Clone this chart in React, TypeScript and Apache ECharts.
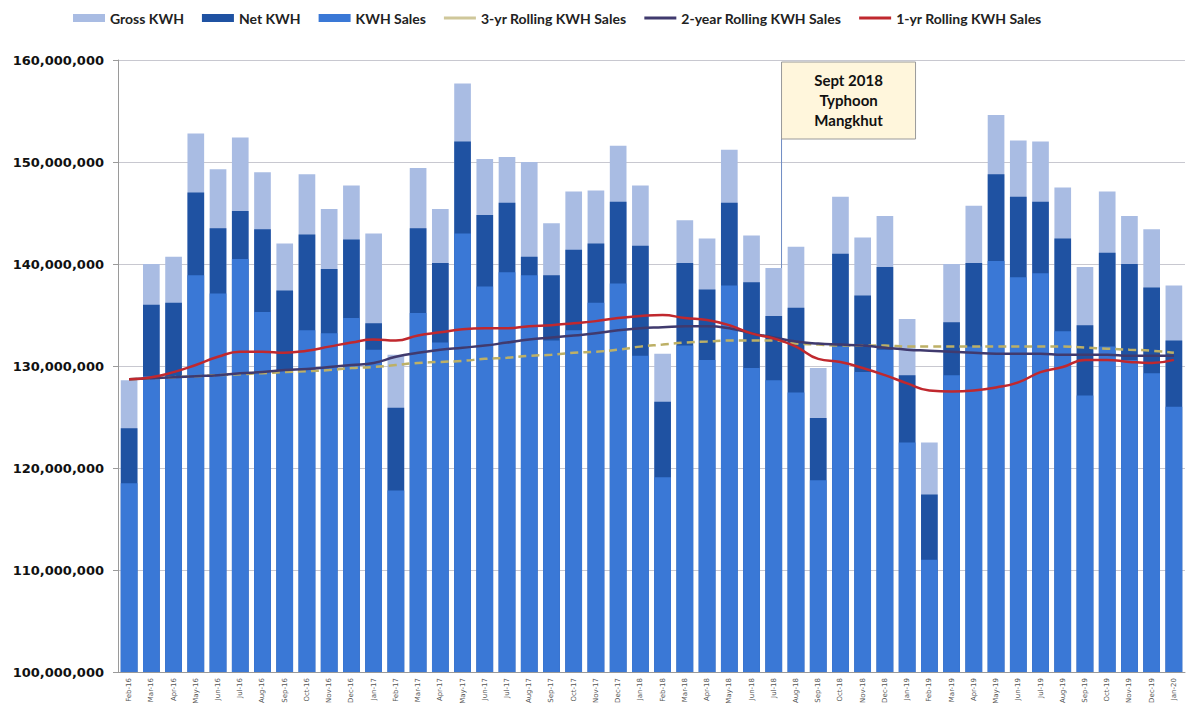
import React, { useEffect, useRef } from "react";
import * as echarts from "echarts";

const categories = [
  "Feb-16","Mar-16","Apr-16","May-16","Jun-16","Jul-16","Aug-16","Sep-16","Oct-16","Nov-16","Dec-16","Jan-17",
  "Feb-17","Mar-17","Apr-17","May-17","Jun-17","Jul-17","Aug-17","Sep-17","Oct-17","Nov-17","Dec-17","Jan-18",
  "Feb-18","Mar-18","Apr-18","May-18","Jun-18","Jul-18","Aug-18","Sep-18","Oct-18","Nov-18","Dec-18","Jan-19",
  "Feb-19","Mar-19","Apr-19","May-19","Jun-19","Jul-19","Aug-19","Sep-19","Oct-19","Nov-19","Dec-19","Jan-20",
];

// millions of kWh
const grossKwh = [
  128.6, 140.0, 140.7, 152.8, 149.3, 152.4, 149.0, 142.0, 148.8, 145.4, 147.7, 143.0,
  131.1, 149.4, 145.4, 157.7, 150.3, 150.5, 150.0, 144.0, 147.1, 147.2, 151.6, 147.7,
  131.2, 144.3, 142.5, 151.2, 142.8, 139.6, 141.7, 129.8, 146.6, 142.6, 144.7, 134.6,
  122.5, 140.0, 145.7, 154.6, 152.1, 152.0, 147.5, 139.7, 147.1, 144.7, 143.4, 137.9,
];
const netKwh = [
  123.9, 136.0, 136.2, 147.0, 143.5, 145.2, 143.4, 137.4, 142.9, 139.5, 142.4, 134.2,
  125.9, 143.5, 140.1, 152.0, 144.8, 146.0, 140.7, 138.9, 141.4, 142.0, 146.1, 141.8,
  126.5, 140.1, 137.5, 146.0, 138.2, 134.9, 135.7, 124.9, 141.0, 136.9, 139.7, 129.1,
  117.4, 134.3, 140.1, 148.8, 146.6, 146.1, 142.5, 134.0, 141.1, 140.0, 137.7, 132.5,
];
const kwhSales = [
  118.5, 129.0, 129.0, 138.9, 137.1, 140.5, 135.3, 129.5, 133.5, 133.2, 134.7, 131.6,
  117.8, 135.2, 132.3, 143.0, 137.8, 139.2, 138.9, 132.5, 133.5, 136.2, 138.1, 131.0,
  119.1, 132.0, 130.6, 137.9, 129.8, 128.6, 127.4, 118.8, 131.9, 129.4, 131.6, 122.5,
  111.0, 129.1, 131.9, 140.3, 138.7, 139.1, 133.4, 127.1, 131.9, 130.6, 129.3, 126.0,
];
const rolling3yr = [
  128.7, 128.8, 128.9, 129.0, 129.1, 129.2, 129.3, 129.4, 129.5, 129.6, 129.8, 129.9,
  130.1, 130.3, 130.4, 130.5, 130.7, 130.8, 131.0, 131.1, 131.3, 131.4, 131.6, 131.9,
  132.1, 132.3, 132.4, 132.5, 132.5, 132.5, 132.2, 132.1, 132.0, 132.0, 132.0, 131.9,
  131.9, 131.9, 131.9, 131.9, 131.9, 131.9, 131.9, 131.8, 131.7, 131.6, 131.5, 131.3,
];
const rolling2yr = [
  128.7, 128.8, 128.9, 129.0, 129.1, 129.3, 129.4, 129.6, 129.7, 129.9, 130.1, 130.3,
  130.9, 131.3, 131.6, 131.8, 132.0, 132.3, 132.6, 132.8, 133.0, 133.2, 133.5, 133.7,
  133.8, 133.9, 133.9, 133.7, 133.2, 132.8, 132.4, 132.2, 132.1, 132.0, 131.8, 131.6,
  131.5, 131.4, 131.3, 131.2, 131.2, 131.2, 131.1, 131.1, 131.1, 131.0, 131.0, 131.0,
];
const rolling1yr = [
  128.7, 128.9, 129.4, 130.1, 130.9, 131.4, 131.4, 131.3, 131.5, 131.9, 132.3, 132.6,
  132.5, 133.0, 133.3, 133.6, 133.7, 133.7, 133.9, 134.0, 134.2, 134.4, 134.7, 134.9,
  135.0, 134.7, 134.5, 134.0, 133.2, 132.7, 131.9, 130.7, 130.4, 129.8, 129.1, 128.3,
  127.6, 127.5, 127.6, 127.9, 128.4, 129.4, 129.9, 130.6, 130.6, 130.4, 130.3, 130.6,
];
const yTicks = [100, 110, 120, 130, 140, 150, 160];
const annotationAfter = "Jul-18";
const annotationText = "Sept 2018\nTyphoon\nMangkhut";

const M = 1000000;
const toUnits = (a: number[]) => a.map((v) => Math.round(v * M));

export default function App() {
  const ref = useRef<HTMLDivElement>(null);
  useEffect(() => {
    document.body.style.margin = "0";
    const chart = echarts.init(ref.current!, null, { renderer: "svg" });
    const legendFont = { fontFamily: "Lato", fontWeight: "bold" as const, fontSize: 14, color: "#222" };
    const lineIcon = "path://M0,0H32V3H0Z";
    chart.setOption({
      animation: false,
      backgroundColor: "#ffffff",
      legend: {
        top: 6,
        left: 68,
        itemGap: 18,
        itemWidth: 32,
        itemHeight: 8,
        textStyle: legendFont,
        data: [
          { name: "Gross KWH", icon: "rect" },
          { name: "Net KWH", icon: "rect" },
          { name: "KWH Sales", icon: "rect" },
          { name: "3-yr Rolling KWH Sales", icon: lineIcon, itemStyle: { color: "#cfc79a" } },
          { name: "2-year Rolling KWH Sales", icon: lineIcon },
          { name: "1-yr Rolling KWH Sales", icon: lineIcon },
        ],
      },
      grid: { left: 118, right: 3, top: 60, bottom: 38, containLabel: false },
      xAxis: {
        type: "category",
        data: categories,
        boundaryGap: true,
        axisLine: { show: true, lineStyle: { color: "#9a9a9a" } },
        axisTick: { show: false },
        axisLabel: { rotate: 90, fontSize: 7, color: "#555", fontFamily: "DejaVu Sans", margin: 6 },
      },
      yAxis: {
        type: "value",
        min: yTicks[0] * M,
        max: yTicks[yTicks.length - 1] * M,
        interval: 10 * M,
        axisLine: { show: true, lineStyle: { color: "#9a9a9a" } },
        axisTick: { show: true, inside: false, length: 5, lineStyle: { color: "#9a9a9a" } },
        splitLine: { show: true, lineStyle: { color: "#c8c8d0", width: 1 } },
        axisLabel: {
          fontFamily: "DejaVu Sans",
          fontWeight: "bold",
          fontSize: 13,
          color: "#111",
          margin: 14,
          formatter: (v: number) => v.toLocaleString("en-US"),
        },
      },
      series: [
        {
          name: "Gross KWH",
          type: "bar",
          data: toUnits(grossKwh),
          barWidth: "75%",
          barGap: "-100%",
          itemStyle: { color: "#a9bce3" },
          z: 2,
        },
        {
          name: "Net KWH",
          type: "bar",
          data: toUnits(netKwh),
          barWidth: "75%",
          barGap: "-100%",
          itemStyle: { color: "#1f52a2" },
          z: 3,
        },
        {
          name: "KWH Sales",
          type: "bar",
          data: toUnits(kwhSales),
          barWidth: "75%",
          barGap: "-100%",
          itemStyle: { color: "#3a78d6" },
          z: 4,
        },
        {
          name: "3-yr Rolling KWH Sales",
          type: "line",
          data: toUnits(rolling3yr),
          smooth: true,
          symbol: "none",
          lineStyle: { color: "#bdb066", width: 2.5, type: [8, 5] },
          itemStyle: { color: "#bdb066" },
          z: 5,
        },
        {
          name: "2-year Rolling KWH Sales",
          type: "line",
          data: toUnits(rolling2yr),
          smooth: true,
          symbol: "none",
          lineStyle: { color: "#403a6e", width: 2.5 },
          itemStyle: { color: "#403a6e" },
          z: 6,
        },
        {
          name: "1-yr Rolling KWH Sales",
          type: "line",
          data: toUnits(rolling1yr),
          smooth: true,
          symbol: "none",
          lineStyle: { color: "#c0282e", width: 2.5 },
          itemStyle: { color: "#c0282e" },
          z: 7,
        },
      ],
    });

    const idx = categories.indexOf(annotationAfter);
    const xa = chart.convertToPixel({ xAxisIndex: 0 }, categories[idx]) as number;
    const xb = chart.convertToPixel({ xAxisIndex: 0 }, categories[idx + 1]) as number;
    const lineX = xa + (xb - xa) * 0.35;
    const yTop = chart.convertToPixel({ yAxisIndex: 0 }, 160 * M) as number;
    const yBot = chart.convertToPixel({ yAxisIndex: 0 }, 100 * M) as number;
    chart.setOption({
      graphic: [
        {
          type: "line",
          z: 1,
          shape: { x1: lineX, y1: yTop + 2, x2: lineX, y2: yBot },
          style: { stroke: "#6f8cc4", lineWidth: 1 },
        },
        {
          type: "rect",
          z: 10,
          shape: { x: lineX, y: yTop + 2, width: 134, height: 77 },
          style: { fill: "#fff6dc", stroke: "#9a9a9a", lineWidth: 1 },
        },
        {
          type: "text",
          z: 11,
          x: lineX + 67,
          y: yTop + 10,
          style: {
            text: annotationText,
            fontFamily: "Lato",
            fontWeight: "bold",
            fontSize: 15,
            lineHeight: 20,
            fill: "#111",
            align: "center",
            verticalAlign: "top",
          },
        },
      ],
    });

    return () => chart.dispose();
  }, []);
  return <div ref={ref} style={{ width: 1188, height: 710 }} />;
}
